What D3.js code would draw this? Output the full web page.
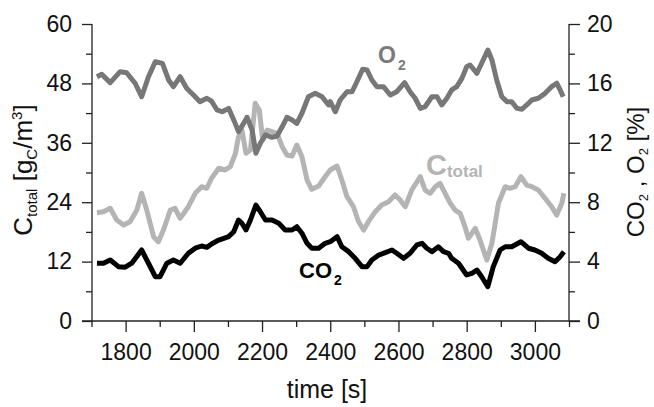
<!DOCTYPE html>
<html>
<head>
<meta charset="utf-8">
<script src="https://cdn.jsdelivr.net/npm/d3@7"></script>
<style>
  html, body { margin: 0; padding: 0; background: #fff; }
  svg { display: block; font-family: "Liberation Sans", Arial, sans-serif; }
</style>
</head>
<body>
<svg id="chart" width="654" height="407"></svg>
<script>
// ---- data ----
const xTicks = [1800, 2000, 2200, 2400, 2600, 2800, 3000];
const xMinorTicks = [1700, 1900, 2100, 2300, 2500, 2700, 2900, 3100];
const leftTicks = [0, 12, 24, 36, 48, 60];
const leftMinorTicks = [6, 18, 30, 42, 54];
const rightTicks = [0, 4, 8, 12, 16, 20];
const rightMinorTicks = [2, 6, 10, 14, 18];

// O2 [%] (right axis)
const o2Time = [1716,1730,1755,1784,1803,1828,1847,1867,1887,1908,1926,1940,1960,1979,1999,2018,2038,2052,2068,2083,2102,2117,2131,2146,2156,2171,2182,2195,2210,2229,2244,2259,2273,2288,2302,2317,2336,2356,2376,2395,2400,2415,2429,2449,2464,2478,2495,2508,2522,2537,2556,2576,2595,2618,2634,2649,2664,2678,2698,2713,2727,2742,2756,2771,2786,2800,2810,2830,2846,2862,2874,2888,2903,2918,2932,2947,2962,2976,2991,3010,3030,3049,3064,3074,3083];
const o2Values = [16.45,16.61,16.05,16.79,16.72,16.01,15.10,16.45,17.46,17.35,16.23,15.78,16.45,15.67,15.22,14.77,15.00,14.80,14.21,14.09,14.32,13.54,12.75,13.31,13.72,12.86,11.29,11.97,12.53,12.37,12.46,13.08,13.72,13.54,13.31,13.99,15.10,15.33,15.10,14.55,14.77,14.09,14.88,15.44,15.44,16.11,16.95,16.90,16.23,15.78,15.78,15.22,15.44,16.05,15.44,15.00,14.32,14.43,15.10,15.10,14.55,15.00,15.56,15.78,16.34,17.12,17.24,16.68,17.46,18.25,17.58,16.23,15.10,14.77,14.77,14.32,14.26,14.55,14.88,15.00,15.33,15.78,16.01,15.56,15.10];

// Ctotal [gC/m3] (left axis)
const ctotalTime = [1716,1735,1755,1774,1794,1813,1833,1847,1862,1882,1896,1911,1931,1945,1960,1984,2004,2023,2038,2052,2073,2092,2107,2122,2131,2141,2153,2166,2180,2192,2202,2215,2229,2244,2259,2273,2288,2302,2317,2332,2346,2366,2385,2400,2420,2434,2449,2468,2483,2498,2512,2532,2551,2571,2590,2605,2620,2639,2664,2678,2693,2708,2722,2732,2747,2752,2766,2781,2795,2805,2825,2839,2859,2874,2893,2913,2927,2942,2959,2976,2991,3010,3030,3049,3064,3079,3085];
const ctotalValues = [21.88,22.08,22.77,20.40,19.39,20.06,22.42,25.80,22.42,17.03,16.02,18.38,22.42,22.77,20.75,23.09,25.80,27.13,26.81,28.83,30.85,30.51,31.17,33.88,37.23,38.59,33.88,34.55,43.98,42.63,36.57,38.59,38.24,37.92,35.21,33.54,33.33,35.56,33.19,28.48,26.61,27.27,29.15,30.51,31.31,28.48,25.11,23.09,20.06,18.38,20.06,22.08,23.43,24.10,25.45,24.44,23.09,26.46,29.15,26.46,25.80,27.13,27.82,26.46,24.44,23.78,22.42,21.76,19.05,16.71,18.73,16.36,12.32,15.70,23.78,27.13,26.81,27.13,29.15,27.47,27.13,26.46,24.79,23.09,21.41,23.78,25.80];

// CO2 [%] (right axis)
const co2Time = [1716,1735,1755,1779,1799,1818,1847,1867,1887,1901,1921,1940,1960,1984,2004,2023,2038,2052,2073,2088,2102,2117,2131,2141,2153,2166,2182,2195,2210,2229,2249,2268,2288,2302,2317,2332,2346,2366,2385,2400,2420,2434,2454,2473,2493,2508,2522,2542,2561,2581,2595,2615,2634,2654,2669,2683,2698,2717,2732,2747,2756,2776,2800,2815,2830,2844,2862,2878,2898,2913,2932,2959,2981,3000,3020,3039,3059,3074,3085];
const co2Values = [3.89,3.89,4.11,3.66,3.62,3.89,4.78,3.89,2.98,2.98,3.89,4.11,3.89,4.56,4.90,5.05,4.96,5.19,5.45,5.57,5.68,6.01,6.80,6.58,6.13,6.80,7.81,7.36,6.80,6.80,6.58,6.13,6.13,6.35,5.91,5.23,4.90,4.90,5.23,5.34,5.68,5.00,4.67,4.22,3.66,3.66,4.11,4.44,4.60,4.78,4.56,4.22,4.56,5.12,5.23,4.90,4.67,5.00,4.67,4.56,4.22,3.89,3.10,3.21,3.43,2.98,2.31,3.66,4.78,5.00,5.00,5.34,4.90,4.78,4.56,4.22,3.99,4.33,4.67];

// ---- drawing ----
const svg = d3.select("#chart");
const FONT = "'Liberation Sans', Arial, sans-serif";
const x = d3.scaleLinear().domain([1700, 3100]).range([91.5, 569]);
const yL = d3.scaleLinear().domain([0, 60]).range([321, 24]);
const yR = d3.scaleLinear().domain([0, 20]).range([321, 24]);
const axisColor = "#222";

function zipPts(t, v) { return t.map((d, i) => [d, v[i]]); }

const plot = svg.append("g");
const lineL = d3.line().x(d => x(d[0])).y(d => yL(d[1]));
const lineR = d3.line().x(d => x(d[0])).y(d => yR(d[1]));

const series = [
  { pts: zipPts(ctotalTime, ctotalValues), line: lineL, color: "#b4b4b4" },
  { pts: zipPts(o2Time, o2Values), line: lineR, color: "#777777" },
  { pts: zipPts(co2Time, co2Values), line: lineR, color: "#000000" }
];
series.forEach(s => {
  plot.append("path")
    .attr("d", s.line(s.pts))
    .attr("fill", "none")
    .attr("stroke", s.color)
    .attr("stroke-width", 5)
    .attr("stroke-linejoin", "round")
    .attr("stroke-linecap", "butt");
});

// axes
function styleAxis(g) {
  g.select(".domain").remove();
  g.selectAll(".tick line").attr("stroke", axisColor).attr("stroke-width", 1.3);
  g.selectAll(".tick text").attr("fill", "#111").attr("font-family", FONT).attr("font-size", 23);
}

// spines
svg.append("line").attr("x1", 82).attr("x2", 580).attr("y1", 321).attr("y2", 321)
  .attr("stroke", axisColor).attr("stroke-width", 1.3);
svg.append("line").attr("x1", 92).attr("x2", 92).attr("y1", 24).attr("y2", 321)
  .attr("stroke", axisColor).attr("stroke-width", 1.3);
svg.append("line").attr("x1", 569).attr("x2", 569).attr("y1", 24).attr("y2", 321)
  .attr("stroke", axisColor).attr("stroke-width", 1.3);

// x axis
svg.append("g").attr("transform", "translate(0,321)")
  .call(d3.axisBottom(x).tickValues(xTicks).tickFormat(d3.format("d")).tickSize(11).tickPadding(12))
  .call(styleAxis);
svg.append("g").attr("transform", "translate(0,321)")
  .call(d3.axisBottom(x).tickValues(xMinorTicks).tickFormat("").tickSize(6))
  .call(styleAxis);

// left axis
svg.append("g").attr("transform", "translate(92,0)")
  .call(d3.axisLeft(yL).tickValues(leftTicks).tickSize(10).tickPadding(10))
  .call(styleAxis);
svg.append("g").attr("transform", "translate(92,0)")
  .call(d3.axisLeft(yL).tickValues(leftMinorTicks).tickFormat("").tickSize(6))
  .call(styleAxis);

// right axis
svg.append("g").attr("transform", "translate(569,0)")
  .call(d3.axisRight(yR).tickValues(rightTicks).tickSize(11).tickPadding(7))
  .call(styleAxis);
svg.append("g").attr("transform", "translate(569,0)")
  .call(d3.axisRight(yR).tickValues(rightMinorTicks).tickFormat("").tickSize(6))
  .call(styleAxis);

// titles
function richText(g, parts, big, small, subOff) {
  const t = g.append("text").attr("font-family", FONT).attr("fill", "#111").attr("text-anchor", "middle");
  let cur = 0;
  parts.forEach(p => {
    const off = p.s === "sub" ? subOff : p.s === "sup" ? -10 : 0;
    t.append("tspan").attr("font-size", p.s ? small : big).attr("dy", off - cur).text(p.t);
    cur = off;
  });
  return t;
}

richText(svg.append("g").attr("transform", "translate(32,170) rotate(-90)"),
  [{ t: "C" }, { t: "total", s: "sub" }, { t: " [g" }, { t: "C", s: "sub" }, { t: "/m" }, { t: "3", s: "sup" }, { t: "]" }], 26, 15, 5);

richText(svg.append("g").attr("transform", "translate(644,172) rotate(-90)"),
  [{ t: "CO" }, { t: "2", s: "sub" }, { t: " , O" }, { t: "2", s: "sub" }, { t: " [%]" }], 24, 13, 4);

svg.append("text").attr("x", 327).attr("y", 398).attr("text-anchor", "middle")
  .attr("font-family", FONT).attr("font-size", 25).attr("fill", "#111").text("time [s]");

// series labels
function seriesLabel(xp, yp, main, sub, color, bigSize, smallSize, subDy, subDx) {
  const t = svg.append("text").attr("x", xp).attr("y", yp).attr("font-family", FONT)
    .attr("font-weight", "bold").attr("fill", color);
  t.append("tspan").attr("font-size", bigSize).text(main);
  t.append("tspan").attr("font-size", smallSize).attr("dy", subDy).attr("dx", subDx).text(sub);
}
seriesLabel(378, 63, "O", "2", "#7a7a7a", 23, 14, 7, 2);
seriesLabel(426, 175, "C", "total", "#b4b4b4", 29, 17, 2, 0);
seriesLabel(299, 278, "CO", "2", "#000000", 22, 14, 7, 2);
</script>
</body>
</html>
